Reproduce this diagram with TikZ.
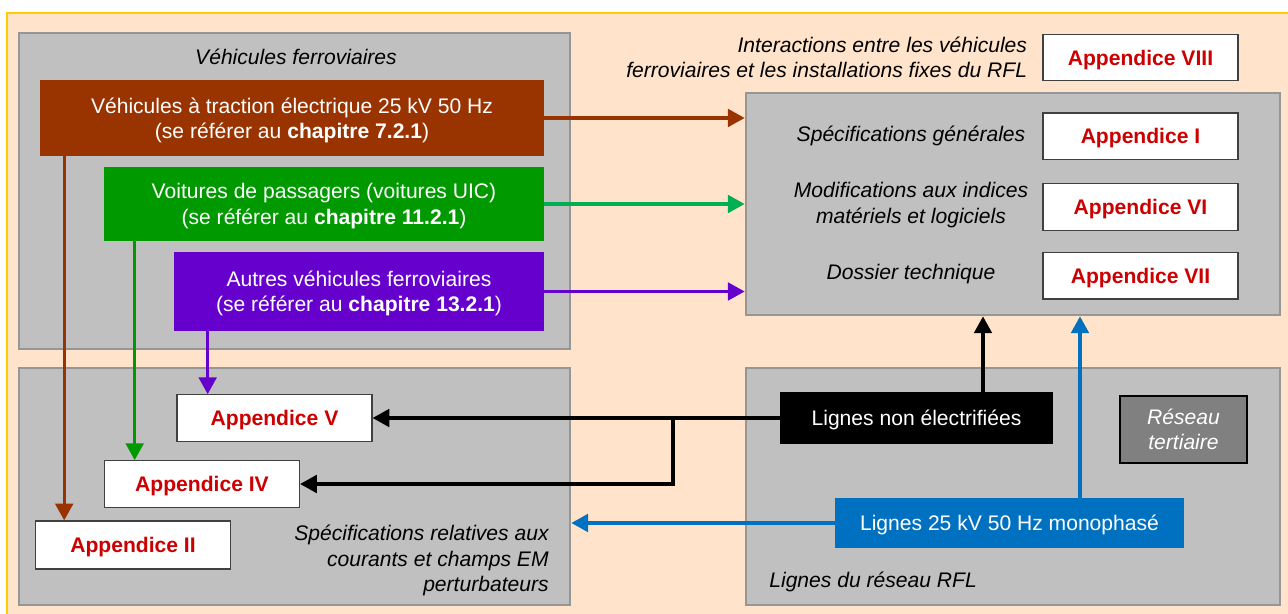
\documentclass[tikz,border=0pt]{standalone}
\usepackage{fontspec}
\setmainfont{Liberation Sans}
\usetikzlibrary{arrows.meta, positioning, calc, shapes}
\definecolor{peach}{RGB}{255,228,203}
\definecolor{edgeyellow}{RGB}{255,204,0}
\definecolor{panelgray}{RGB}{192,192,192}
\definecolor{paneledge}{RGB}{150,150,150}
\definecolor{rust}{RGB}{153,51,0}
\definecolor{leaf}{RGB}{0,153,0}
\definecolor{lime}{RGB}{0,176,80}
\definecolor{purp}{RGB}{102,0,204}
\definecolor{azure}{RGB}{0,112,192}
\definecolor{appred}{RGB}{204,0,0}
\definecolor{midgray}{RGB}{128,128,128}

\begin{document}
\begin{tikzpicture}[x=0.02cm, y=-0.02cm, font=\fontsize{12}{14.5}\selectfont]
		% Define elements
		\tikzstyle{line} = [draw, line width=1.8pt, -{Triangle[length=9.5pt, width=10pt]}]
		\tikzstyle{panel} = [rectangle, draw=paneledge, line width=1.6pt, fill=panelgray, inner sep=0pt]
		\tikzstyle{colbox} = [rectangle, text=white, align=center, inner sep=0pt, text depth=0pt]
		\tikzstyle{appbox} = [rectangle, draw=black!75, line width=0.7pt, fill=white, text=appred, text depth=0pt,
		    font = \fontsize{12}{14.5}\selectfont\bfseries, minimum width=3.9cm, minimum height=0.93cm, inner sep=0pt]
		\tikzstyle{ital} = [font = \fontsize{12}{14.5}\selectfont\itshape, inner sep=0pt, text depth=0pt]
		%% Background
		\path [use as bounding box, fill=white] (0,0) rectangle (1288,614);
		\fill [peach] (7,13) rectangle (1288,614);
		\draw [edgeyellow, line width=1.3pt] (1288,13) -- (7,13) -- (7,614);

		%% Panels
		\node [name = veh, panel, minimum width=11.02cm, minimum height=6.32cm] at (294.5,191) {};
		\node [name = spec, panel, minimum width=10.68cm, minimum height=4.44cm] at (1013,204) {};
		\node [name = emc, panel, minimum width=11.02cm, minimum height=4.74cm] at (294.5,486.5) {};
		\node [name = net, panel, minimum width=10.68cm, minimum height=4.74cm] at (1013,486.5) {};

		%% Vehicles
		\node [name = vehtitle, ital] at (296,57) {Véhicules ferroviaires};
		\node [name = trac, colbox, fill=rust, minimum width=10.08cm, minimum height=1.52cm] at (292,118)
		    {Véhicules à traction électrique 25 kV 50 Hz\\(se référer au \textbf{chapitre 7.2.1})};
		\node [name = pass, colbox, fill=leaf, minimum width=8.8cm, minimum height=1.48cm] at (324,204)
		    {Voitures de passagers (voitures UIC)\\(se référer au \textbf{chapitre 11.2.1})};
		\node [name = autr, colbox, fill=purp, minimum width=7.4cm, minimum height=1.58cm] at (359,291.5)
		    {Autres véhicules ferroviaires\\(se référer au \textbf{chapitre 13.2.1})};

		%% Specifications
		\node [name = app8, appbox] at (1140.5,57.5) {Appendice VIII};
		\node [name = inter, ital, align=right, left=0.3cm of app8]
		    {Interactions entre les véhicules\\ferroviaires et les installations fixes du RFL};
		\node [name = app1, appbox, below=0.62cm of app8] {Appendice I};
		\node [name = app6, appbox, below=0.46cm of app1] {Appendice VI};
		\node [name = app7, appbox, below=0.42cm of app6] {Appendice VII};
		\node [name = gen, ital] at (911,134) {Spécifications générales};
		\node [name = modif, ital, align=center] at (911,203) {Modifications aux indices\\matériels et logiciels};
		\node [name = doss, ital] at (911,272) {Dossier technique};

		%% Disturbing currents
		\node [name = app5, appbox] at (274.5,418) {Appendice V};
		\node [name = app4, appbox] at (202,484) {Appendice IV};
		\node [name = app2, appbox, minimum height=0.96cm] at (133,545) {Appendice II};
		\node [name = emctext, ital, align=right, anchor=east] at (549,558.5)
		    {Spécifications relatives aux\\courants et champs EM\\perturbateurs};

		%% Network lines
		\node [name = lne, colbox, fill=black, minimum width=5.46cm, minimum height=1.04cm] at (916.5,418) {Lignes non électrifiées};
		\node [name = ter, colbox, fill=midgray, draw=black, line width=1pt, font = \fontsize{12}{14.5}\selectfont\itshape,
		    minimum width=2.54cm, minimum height=1.34cm] at (1183.5,429.5) {Réseau\\tertiaire};
		\node [name = l25, colbox, fill=azure, minimum width=6.98cm, minimum height=1.0cm] at (1009.5,523) {Lignes 25 kV 50 Hz monophasé};
		\node [name = rfltext, ital, anchor=west] at (769,580) {Lignes du réseau RFL};

	% arrows
		\coordinate (jn) at (673,418);
		\path [line, rust] (trac.east) -- (trac.east -| spec.west);
		\path [line, lime] (pass.east) -- (pass.east -| spec.west);
		\path [line, purp] (autr.east) -- (autr.east -| spec.west);
		\path [line, rust] ([xshift=0.49cm]trac.south west) -- ([xshift=0.49cm]trac.south west |- app2.north);
		\path [line, leaf] ([xshift=0.62cm]pass.south west) -- ([xshift=0.62cm]pass.south west |- app4.north);
		\path [line, purp] ([xshift=0.68cm]autr.south west) -- ([xshift=0.68cm]autr.south west |- app5.north);
		\path [line, black] (lne.west) -- (app5.east);
		\path [line, black] (jn) |- (app4.east);
		\path [line, black] ([xshift=1.33cm]lne.north) -- ([xshift=1.33cm]lne.north |- spec.south);
		\path [line, azure] ([xshift=1.41cm]l25.north) -- ([xshift=1.41cm]l25.north |- spec.south);
		\path [line, azure] (l25.west) -- (l25.west -| emc.east);
	\end{tikzpicture}
\end{document}
